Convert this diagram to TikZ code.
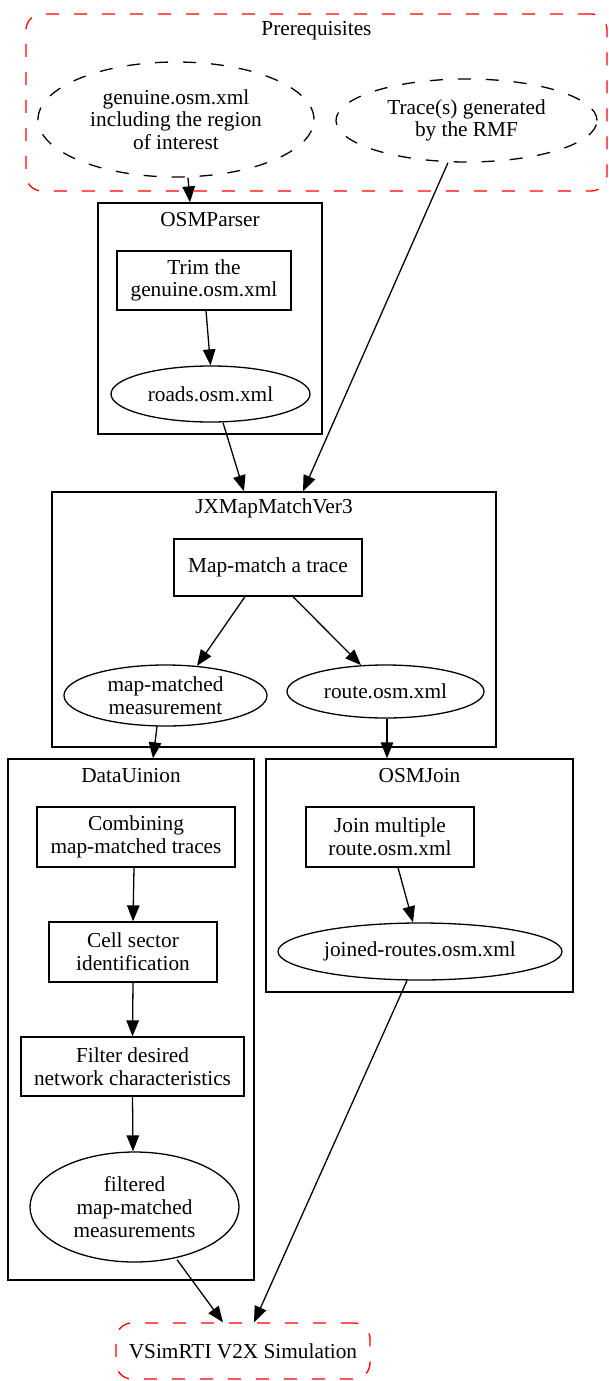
\documentclass[tikz,border=0pt]{standalone}
\usepackage{fontspec}
\setmainfont{Liberation Serif}
\usetikzlibrary{arrows.meta,calc,shapes.geometric}
\begin{document}
\begin{tikzpicture}[x=1pt,y=-1pt,
  every node/.style={font=\fontsize{21.3}{22.7}\selectfont, align=center, inner sep=0pt},
  lw/.style={line width=1.3pt},
  dsh/.style={dash pattern=on 13pt off 15pt},
  clus/.style={draw, lw, rectangle},
  redclus/.style={draw=red, lw, dsh, rectangle, rounded corners=16pt},
  boxnode/.style={draw, lw, rectangle},
  ell/.style={draw, lw, ellipse, inner sep=-5pt},
  dell/.style={ell, dsh},
  arr/.style={lw, -{Triangle[length=16pt,width=12.5pt]}}
]
\useasboundingbox (0,0) rectangle (608,1381);

% clusters
\node[redclus, minimum width=581, minimum height=177] (prereq) at (316.5,102.5) {};
\node (prereqlbl) at (316.5,31) {Prerequisites};
\node[clus, minimum width=224, minimum height=231] (osmparser) at (210,318.5) {};
\node (osmparserlbl) at (210,220) {OSMParser};
\node[clus, minimum width=444, minimum height=255] (jx) at (274,619.5) {};
\node (jxlbl) at (274,508) {JXMapMatchVer3};
\node[clus, minimum width=246, minimum height=521] (data) at (131,1019.5) {};
\node (datalbl) at (131,776) {DataUinion};
\node[clus, minimum width=307, minimum height=233] (osmjoin) at (419.5,875.5) {};
\node (osmjoinlbl) at (419.5,776) {OSMJoin};

% nodes
\node[dell, minimum width=276, minimum height=115] (genuine) at (176,119.5) {genuine.osm.xml\\including the region\\of interest};
\node[dell, minimum width=261, minimum height=83] (trace) at (466.5,120.5) {Trace(s) generated\\by the RMF};
\node[boxnode, minimum width=174, minimum height=59] (trim) at (204,280.5) {Trim the\\genuine.osm.xml};
\node[ell, minimum width=199, minimum height=56] (roads) at (210.5,394) {roads.osm.xml};
\node[boxnode, minimum width=188, minimum height=57] (mapmatch) at (268,567.5) {Map-match a trace};
\node[ell, minimum width=203, minimum height=61] (mm) at (165.5,695.5) {map-matched\\measurement};
\node[ell, minimum width=197, minimum height=53] (route) at (385.5,691.5) {route.osm.xml};
\node[boxnode, minimum width=198, minimum height=60] (combining) at (136,837) {Combining\\map-matched traces};
\node[boxnode, minimum width=168, minimum height=60] (cell) at (133,952) {Cell sector\\identification};
\node[boxnode, minimum width=223, minimum height=59] (filter) at (132.5,1066.5) {Filter desired\\network characteristics};
\node[ell, minimum width=209, minimum height=110] (filtered) at (134.5,1207) {filtered\\map-matched\\measurements};
\node[boxnode, minimum width=168, minimum height=60] (join) at (390,837) {Join multiple\\route.osm.xml};
\node[ell, minimum width=284, minimum height=57] (joined) at (420,951.5) {joined-routes.osm.xml};
\node[redclus, minimum width=254, minimum height=56] (vsim) at (243,1351) {VSimRTI V2X Simulation};

% edges
\draw[arr] ($(genuine.south)+(12,0)$) -- ($(osmparser.north)+(-20,0)$);
\draw[arr] ($(trace.south)+(-18.5,0)$) -- ($(jx.north)+(29,0)$);
\draw[arr] ($(trim.south)+(2,0)$) -- (roads.north);
\draw[arr] ($(roads.south)+(12.5,0)$) -- ($(jx.north)+(-30,0)$);
\draw[arr] ($(mapmatch.south)+(-23,0)$) -- ($(mm.north)+(31.5,1.5)$);
\draw[arr] ($(mapmatch.south)+(25,0)$) -- ($(route.north)+(-24.5,0.8)$);
\draw[arr] ($(mm.south)+(-8.5,0)$) -- ($(data.north)+(22,0)$);
\draw[arr] ($(route.south)+(1.5,0)$) -- ($(osmjoin.north)+(-32.5,0)$);
\draw[arr] ($(combining.south)+(-2,0)$) -- (cell.north);
\draw[arr] (cell.south) -- (filter.north);
\draw[arr] (filter.south) -- ($(filtered.north)+(-1.5,0)$);
\draw[arr] ($(join.south)+(8,0)$) -- ($(joined.north)+(-7,0)$);
\draw[arr] ($(filtered.south)+(42.5,-3)$) -- ($(vsim.north)+(-20,0)$);
\draw[arr] ($(joined.south)+(-13,0)$) -- ($(vsim.north)+(11,0)$);
\end{tikzpicture}
\end{document}
